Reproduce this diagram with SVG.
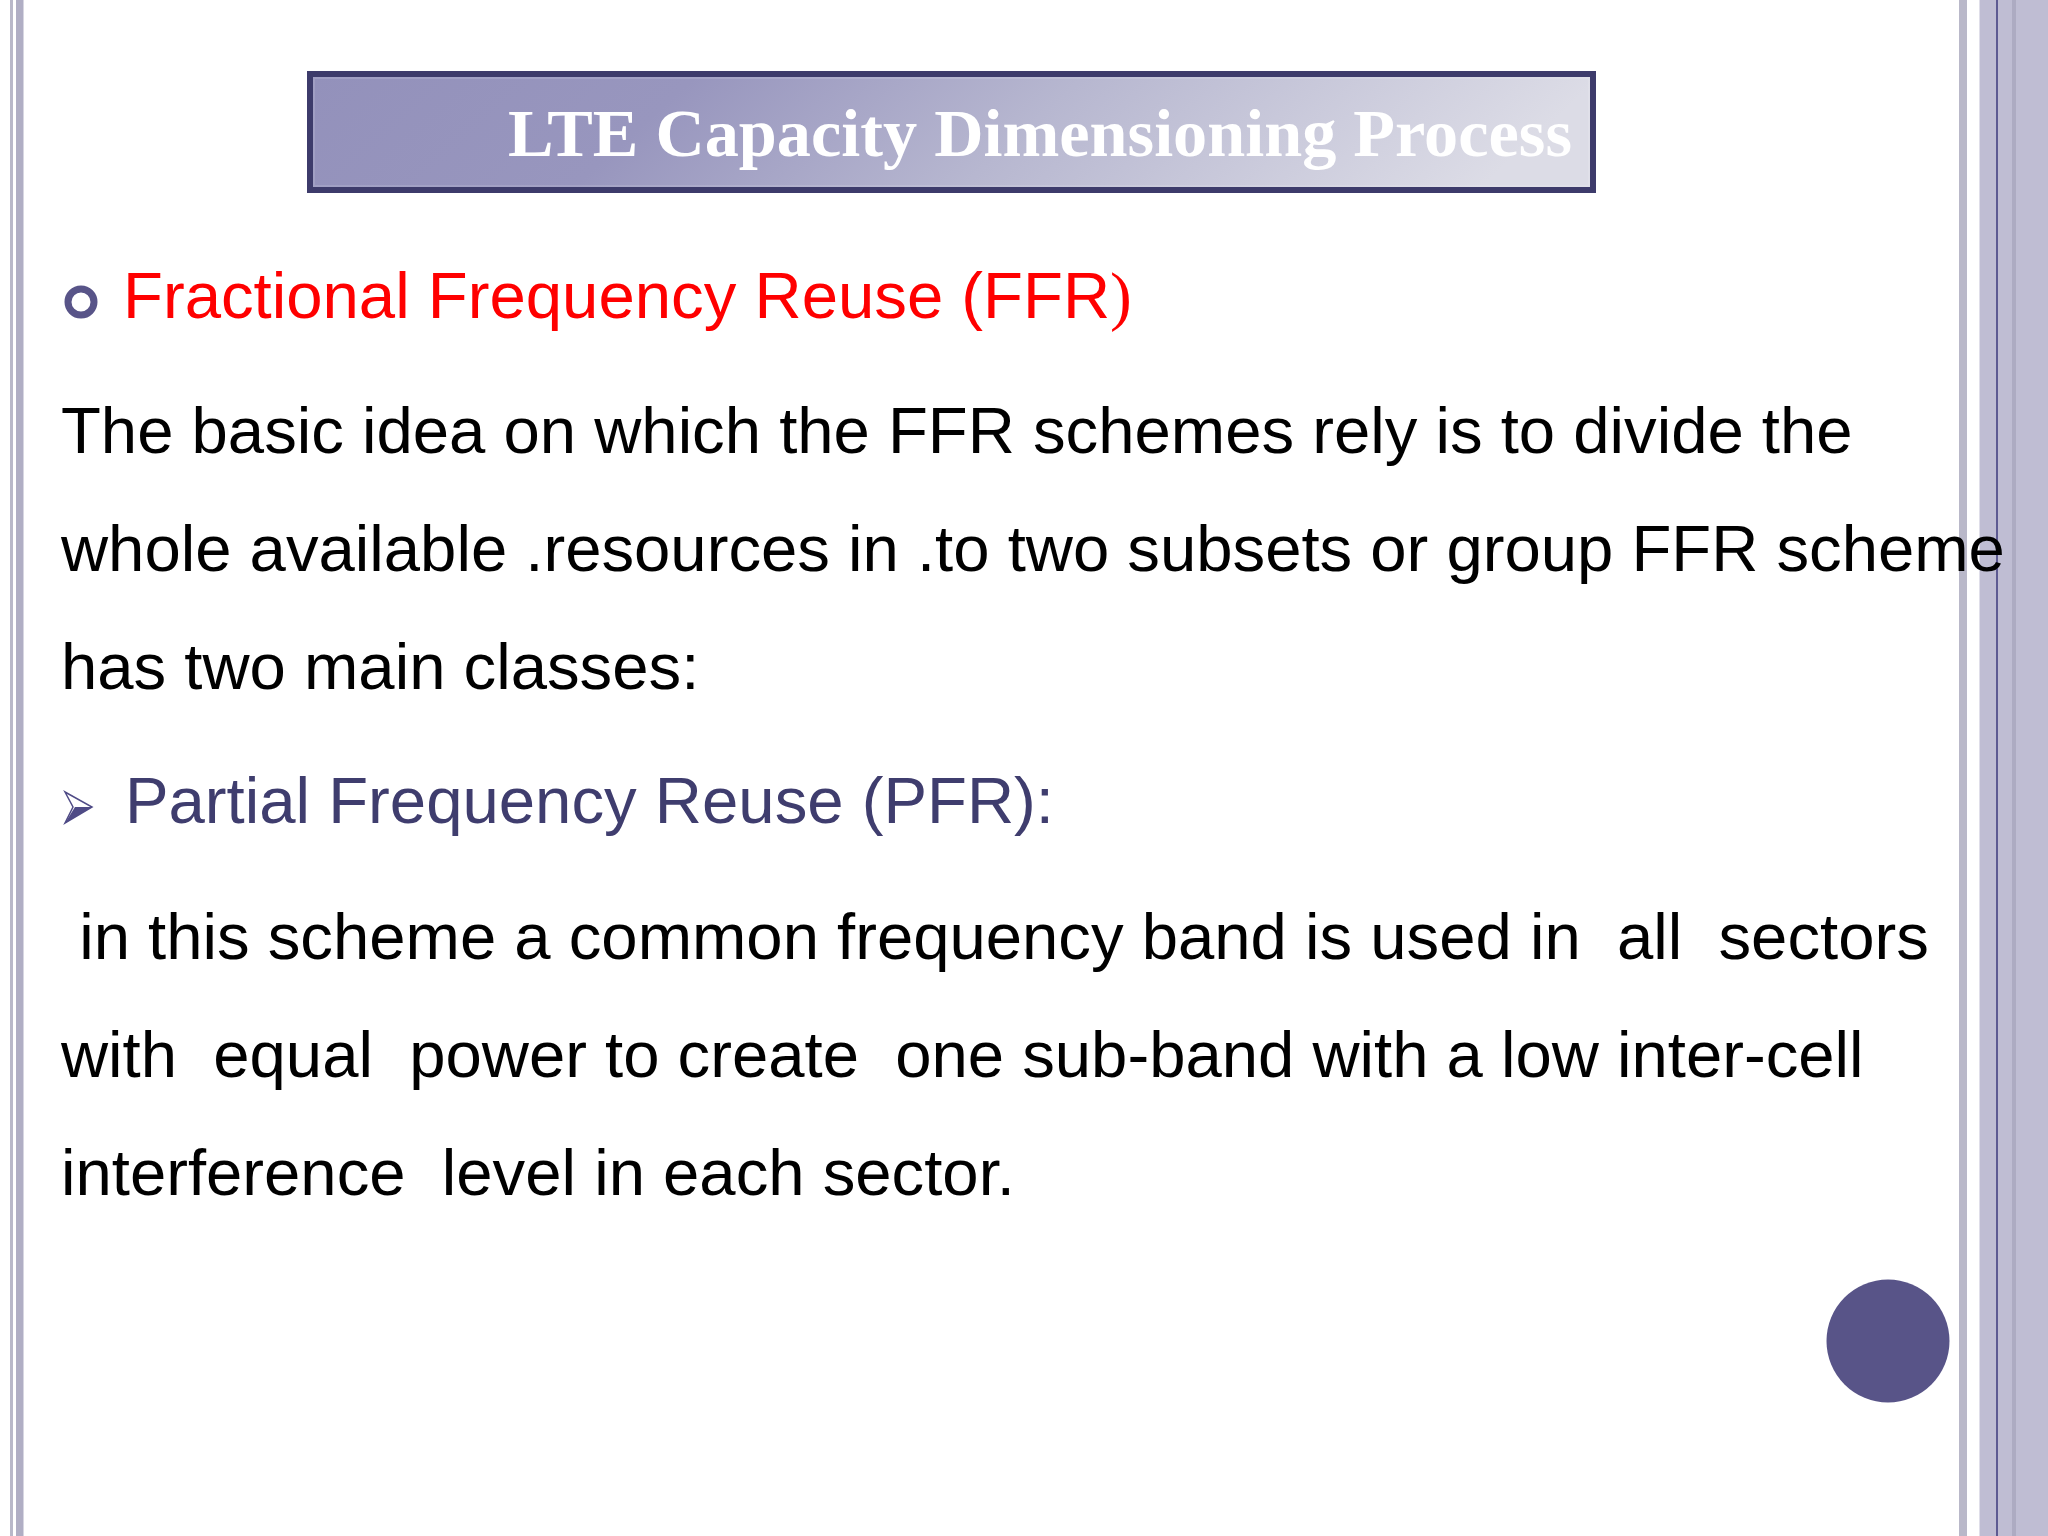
<svg xmlns="http://www.w3.org/2000/svg" width="2048" height="1536" viewBox="0 0 2048 1536">
<defs>
<linearGradient id="tg" x1="0" y1="0" x2="1" y2="0.1"><stop offset="0" stop-color="#9391bb"/><stop offset="0.3" stop-color="#9896be"/><stop offset="0.6" stop-color="#b7b7d0"/><stop offset="1" stop-color="#dcdce6"/></linearGradient>
</defs>
<style>
.b{font-family:"Liberation Sans",Arial,sans-serif;font-size:65.25px;fill:#000;white-space:pre}
.h{font-family:"Liberation Sans",Arial,sans-serif;font-size:65.3px}
</style>
<rect width="2048" height="1536" fill="#fff"/>
<g id="frame">
<rect x="10" y="0" width="3" height="1536" fill="#b9b8c9"/>
<rect x="16" y="0" width="7.500" height="1536" fill="#b0aec4"/>
<rect x="1959" y="0" width="8" height="1536" fill="#b9b8c9"/>
<rect x="1979.500" y="0" width="68.500" height="1536" fill="#bfbdd3"/>
<rect x="2012" y="0" width="4" height="1536" fill="#adabc2"/>
<rect x="1996" y="0" width="2" height="1536" fill="#5d5a92"/>
</g>
<g id="title">
<rect x="310" y="74" width="1283" height="116" fill="url(#tg)" stroke="#3d3b6b" stroke-width="6"/>
<rect x="314" y="78" width="1275" height="108" fill="none" stroke="#fff" stroke-opacity="0.12" stroke-width="2"/>
<text x="508" y="156" font-family="'Liberation Serif',serif" font-weight="bold" font-size="68" fill="#fff" textLength="1064" lengthAdjust="spacingAndGlyphs">LTE Capacity Dimensioning Process</text>
</g>
<g id="bullet1">
<circle cx="81" cy="302" r="13" fill="none" stroke="#585488" stroke-width="7"/>
<text class="h" x="123" y="318" fill="#ff0000">Fractional Frequency Reuse (FFR<tspan font-family="'Liberation Serif',serif">)</tspan></text>
</g>
<g id="para1">
<text class="b" x="61" y="453">The basic idea on which the FFR schemes rely is to divide the</text>
<text class="b" x="61" y="571">whole available .resources in .to two subsets or group FFR scheme</text>
<text class="b" x="61" y="689">has two main classes:</text>
</g>
<g id="bullet2">
<path d="M65 792 L92 807 L65 823 L73 807 Z" fill="#fff" stroke="#4f4b86" stroke-width="1.5"/>
<path d="M65 823 L92 807 L75 807 Z" fill="#4f4b86"/>
<text class="h" x="125" y="823" fill="#3f3d6e">Partial Frequency Reuse (PFR):</text>
</g>
<g id="para2">
<text class="b" x="61" y="959"> in this scheme a common frequency band is used in  all  sectors</text>
<text class="b" x="61" y="1077">with  equal  power to create  one sub-band with a low inter-cell</text>
<text class="b" x="61" y="1195">interference  level in each sector.</text>
</g>
<circle id="dot" cx="1888" cy="1341" r="61.5" fill="#585488"/>
</svg>
